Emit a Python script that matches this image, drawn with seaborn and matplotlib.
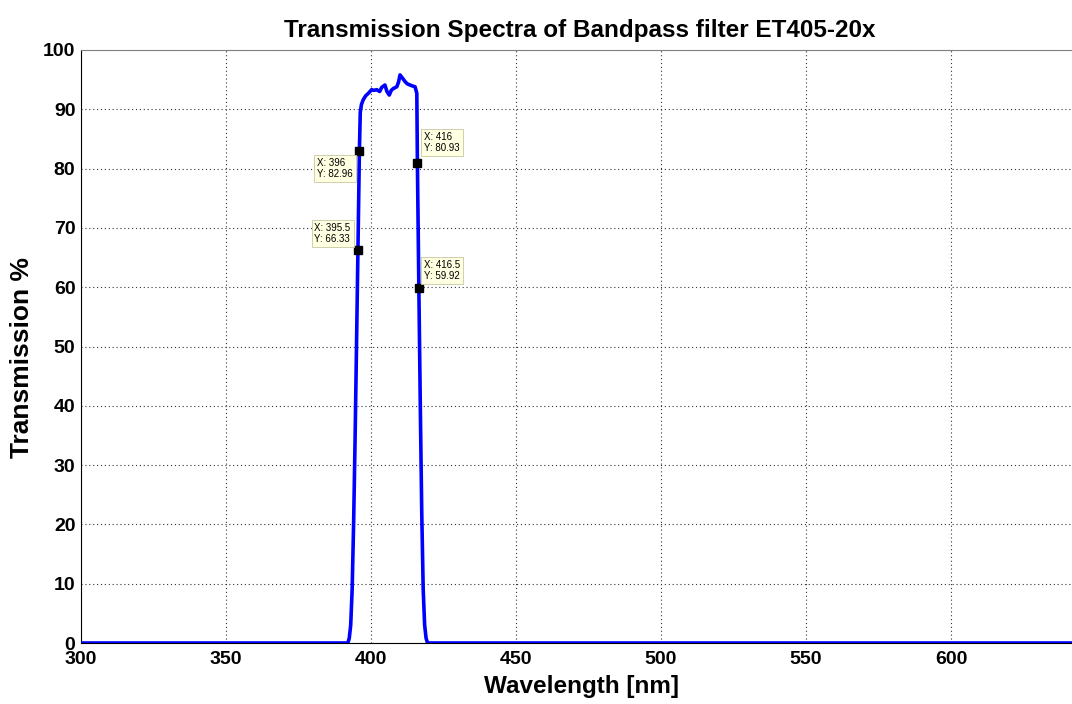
import numpy as np
import matplotlib
matplotlib.use('Agg')
import matplotlib.pyplot as plt
import pandas as pd
import seaborn as sns

# transmission curve
wavelength = [300, 392.0, 392.5, 393, 393.5, 394, 394.5, 395, 395.5, 396, 396.3,
              396.7, 397.3, 398.2, 399.1, 400.2, 401, 402, 403, 403.7, 404.8,
              405.5, 406.3, 407, 407.7, 408.9, 409.5, 410.0, 410.8, 411.7, 412.5,
              413.4, 414.5, 415.2, 415.8, 416, 416.5, 417, 417.5, 418, 418.5,
              419, 419.5, 700]
transmission = [0, 0, 0.8, 3, 9, 20, 34, 50, 66.33, 82.96, 89.5,
                90.8, 91.6, 92.3, 92.7, 93.3, 93.2, 93.3, 93.0, 93.7, 94.1,
                93.0, 92.4, 93.2, 93.5, 93.8, 94.6, 95.8, 95.3, 94.7, 94.3,
                94.1, 93.9, 93.8, 92.7, 80.93, 59.92, 40, 22, 9, 3,
                0.8, 0, 0]

# data tips
tip_x = [396, 395.5, 416, 416.5]
tip_y = [82.96, 66.33, 80.93, 59.92]
tip_labels = ['X: 396\nY: 82.96', 'X: 395.5\nY: 66.33', 'X: 416\nY: 80.93', 'X: 416.5\nY: 59.92']

x_ticks = [300, 350, 400, 450, 500, 550, 600]
y_ticks = [0, 10, 20, 30, 40, 50, 60, 70, 80, 90, 100]

df = pd.DataFrame({'wl': wavelength, 'T': transmission})

sns.set_style('white')
plt.rcParams['font.family'] = ['Liberation Sans', 'DejaVu Sans']
for k in ['text.color', 'axes.labelcolor', 'xtick.color', 'ytick.color']:
    plt.rcParams[k] = 'black'

fig = plt.figure(figsize=(10.72, 7.04), dpi=100)
# axes runs off the right edge like the original screenshot
ax = fig.add_axes([81 / 1072, 61 / 704, 1160 / 1072, 593 / 704])

sns.lineplot(data=df, x='wl', y='T', color='#0000ff', linewidth=2.6, ax=ax, zorder=3)

ax.set_xlim(300, 700)
ax.set_ylim(0, 100)
ax.set_xticks(x_ticks)
ax.set_yticks(y_ticks)
ax.grid(True, color='#333333', linestyle=(0, (1, 2.5)), linewidth=0.8)
ax.tick_params(direction='in', length=5, width=0.8, labelsize=14, pad=4)
ax.tick_params(axis='x', pad=6)
for lab in ax.get_xticklabels() + ax.get_yticklabels():
    lab.set_fontweight('bold')

ax.spines['left'].set_color('k')
ax.spines['bottom'].set_color('k')
ax.spines['top'].set_color('#808080')
for s in ax.spines.values():
    s.set_linewidth(0.8)

ax.set_xlabel('Wavelength [nm]', fontsize=17.5, fontweight='bold')
ax.set_ylabel('Transmission %', fontsize=19, fontweight='bold')
ax.xaxis.set_label_coords((582 - 81) / 1160, -0.054)
ax.yaxis.set_label_coords((34 - 81) / 1160, 0.481)
fig.text(580 / 1072, 1 - 30 / 704, 'Transmission Spectra of Bandpass filter ET405-20x',
         ha='center', va='center', fontsize=17.5, fontweight='bold')

# markers + boxes
ax.plot(tip_x, tip_y, 's', color='k', markersize=5.5, zorder=5)
offsets = [(-4.5, -5.2, 'right', 'top'), (-5.3, 4.3, 'right', 'bottom'),
           (5.0, 7.4, 'left', 'bottom'), (3.9, 5.0, 'left', 'bottom')]
for x, y, t, (dx, dy, ha, va) in zip(tip_x, tip_y, tip_labels, offsets):
    ax.annotate(t, (x, y), xytext=(dx, dy), textcoords='offset points',
                ha=ha, va=va, multialignment='left', fontsize=7, linespacing=1.1, zorder=6,
                bbox=dict(boxstyle='square,pad=0.3', fc='#ffffe1', ec='#c8c8a0', lw=0.6))

plt.savefig('out.png', dpi=100)
plt.close()
